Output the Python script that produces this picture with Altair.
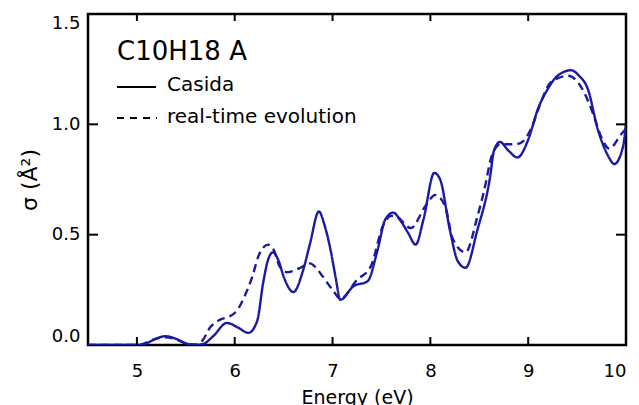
import altair as alt
import pandas as pd

# Photo-absorption cross section of C10H18 (isomer A)
energy_casida = [4.5, 5.0, 5.08, 5.18, 5.29, 5.4, 5.5, 5.6, 5.68, 5.78, 5.92, 6.03, 6.14, 6.23,
                 6.29, 6.34, 6.39, 6.45, 6.5, 6.6, 6.7, 6.77, 6.86, 6.92, 6.98, 7.03, 7.08, 7.21,
                 7.36, 7.46, 7.54, 7.62, 7.7, 7.77, 7.85, 7.93, 8.04, 8.1, 8.2, 8.28, 8.36, 8.48,
                 8.61, 8.65, 8.71, 8.8, 8.89, 9.0, 9.1, 9.2, 9.3, 9.44, 9.52, 9.61, 9.71, 9.82,
                 9.88, 9.97, 10.0]
sigma_casida = [0.0, 0.0, 0.005, 0.025, 0.04, 0.028, 0.008, 0.0, 0.005, 0.04, 0.10, 0.08, 0.055, 0.11,
                0.28, 0.385, 0.42, 0.38, 0.31, 0.24, 0.34, 0.46, 0.605, 0.54, 0.43, 0.31, 0.205, 0.265,
                0.29, 0.43, 0.57, 0.60, 0.56, 0.51, 0.455, 0.57, 0.78, 0.75, 0.52, 0.38, 0.35, 0.52,
                0.76, 0.88, 0.92, 0.88, 0.85, 0.93, 1.07, 1.16, 1.22, 1.245, 1.22, 1.16, 0.98, 0.855,
                0.82, 0.90, 1.0]

energy_rt = [4.5, 5.02, 5.1, 5.2, 5.3, 5.42, 5.52, 5.6, 5.67, 5.75, 5.85, 5.95, 6.03, 6.1, 6.18,
             6.24, 6.34, 6.4, 6.46, 6.54, 6.67, 6.77, 6.83, 6.9, 7.0, 7.08, 7.25, 7.39, 7.52, 7.6,
             7.66, 7.8, 7.95, 8.05, 8.15, 8.23, 8.36, 8.48, 8.55, 8.63, 8.72, 8.85, 8.92, 9.03,
             9.13, 9.23, 9.41, 9.54, 9.67, 9.74, 9.83, 9.95, 10.0]
sigma_rt = [0.0, 0.0, 0.012, 0.03, 0.035, 0.022, 0.004, 0.002, 0.02, 0.08, 0.115, 0.13, 0.16, 0.22, 0.31,
            0.40, 0.455, 0.43, 0.355, 0.33, 0.35, 0.37, 0.35, 0.31, 0.25, 0.21, 0.295, 0.355, 0.545, 0.585,
            0.58, 0.53, 0.63, 0.68, 0.63, 0.48, 0.42, 0.58, 0.70, 0.86, 0.91, 0.91, 0.915, 0.98,
            1.10, 1.19, 1.22, 1.17, 1.04, 0.95, 0.89, 0.955, 0.98]

x_ticks = [5, 6, 7, 8, 9, 10]
y_ticks = [0.0, 0.5, 1.0, 1.5]
x_inner = [5, 6, 7, 8, 9]
y_inner = [0.5, 1.0]

W, H = 538, 331
FONT = "DejaVu Sans"
BLUE = "#1a1aa3"

df = pd.concat([
    pd.DataFrame({"E": energy_casida, "s": sigma_casida, "method": "Casida"}),
    pd.DataFrame({"E": energy_rt, "s": sigma_rt, "method": "real-time evolution"}),
])

xs = alt.Scale(domain=[4.5, 10], nice=False, zero=False)
ys = alt.Scale(domain=[0, 1.5], nice=False)

x_axis = alt.Axis(values=x_ticks, format="d", title="Energy (eV)", grid=False, domain=False,
                  tickSize=0, labelPadding=17, labelFontSize=18, labelFont=FONT,
                  labelColor="black", titleFontSize=19, titleFont=FONT, titleFontWeight="normal",
                  titleColor="black", titlePadding=8)
y_axis = alt.Axis(values=y_ticks, format=".1f", title="σ (Å²)", grid=False, domain=False,
                  tickSize=0, labelPadding=8, labelFontSize=18, labelFont=FONT, labelFlush=True,
                  labelColor="black", titleFontSize=22, titleFont=FONT, titleFontWeight="normal",
                  titleColor="black", titlePadding=10)

lines = alt.Chart(df).mark_line(strokeWidth=2.4, color=BLUE, interpolate="monotone", clip=True).encode(
    x=alt.X("E:Q", scale=xs, axis=x_axis),
    y=alt.Y("s:Q", scale=ys, axis=y_axis),
    strokeDash=alt.StrokeDash("method:N", legend=None,
                              scale=alt.Scale(domain=["Casida", "real-time evolution"],
                                              range=[[1, 0], [8, 5]])),
    detail="method:N",
)

# inward ticks on all four sides
xt = pd.DataFrame({"v": x_inner})
yt = pd.DataFrame({"v": y_inner})
tick_bottom = alt.Chart(xt).mark_rule(color="black", strokeWidth=2).encode(
    x=alt.X("v:Q", scale=xs), y=alt.value(H), y2=alt.value(H - 8))
tick_top = alt.Chart(xt).mark_rule(color="black", strokeWidth=2).encode(
    x=alt.X("v:Q", scale=xs), y=alt.value(0), y2=alt.value(7))
tick_left = alt.Chart(yt).mark_rule(color="black", strokeWidth=2).encode(
    y=alt.Y("v:Q", scale=ys), x=alt.value(0), x2=alt.value(10))
tick_right = alt.Chart(yt).mark_rule(color="black", strokeWidth=2).encode(
    y=alt.Y("v:Q", scale=ys), x=alt.value(W), x2=alt.value(W - 10))

# label block in the upper left corner
one = pd.DataFrame({"a": [0]})
label = alt.Chart(one).mark_text(
    align="left", baseline="alphabetic", fontSize=26, font=FONT, color="black",
    text="C10H18 A").encode(x=alt.value(29), y=alt.value(46))

key_solid = alt.Chart(one).mark_rule(color="black", strokeWidth=2).encode(
    x=alt.value(29), x2=alt.value(68), y=alt.value(73))
key_dash = alt.Chart(one).mark_rule(color="black", strokeWidth=2, strokeDash=[7, 6]).encode(
    x=alt.value(29), x2=alt.value(69), y=alt.value(104))
key_text1 = alt.Chart(one).mark_text(
    align="left", baseline="middle", fontSize=20, font=FONT, color="black",
    text="Casida").encode(x=alt.value(79), y=alt.value(71))
key_text2 = alt.Chart(one).mark_text(
    align="left", baseline="middle", fontSize=20, font=FONT, color="black",
    text="real-time evolution").encode(x=alt.value(79), y=alt.value(103))

chart = alt.layer(
    lines, tick_bottom, tick_top, tick_left, tick_right,
    label, key_solid, key_dash, key_text1, key_text2
).properties(
    width=W, height=H,
    padding={"left": 88, "top": 14, "right": 13, "bottom": 60},
    autosize=alt.AutoSizeParams(type="none"),
    background="white",
).configure_view(stroke="black", strokeWidth=2.5)

chart.save("out.html", embed_options={"renderer": "svg", "actions": False})
